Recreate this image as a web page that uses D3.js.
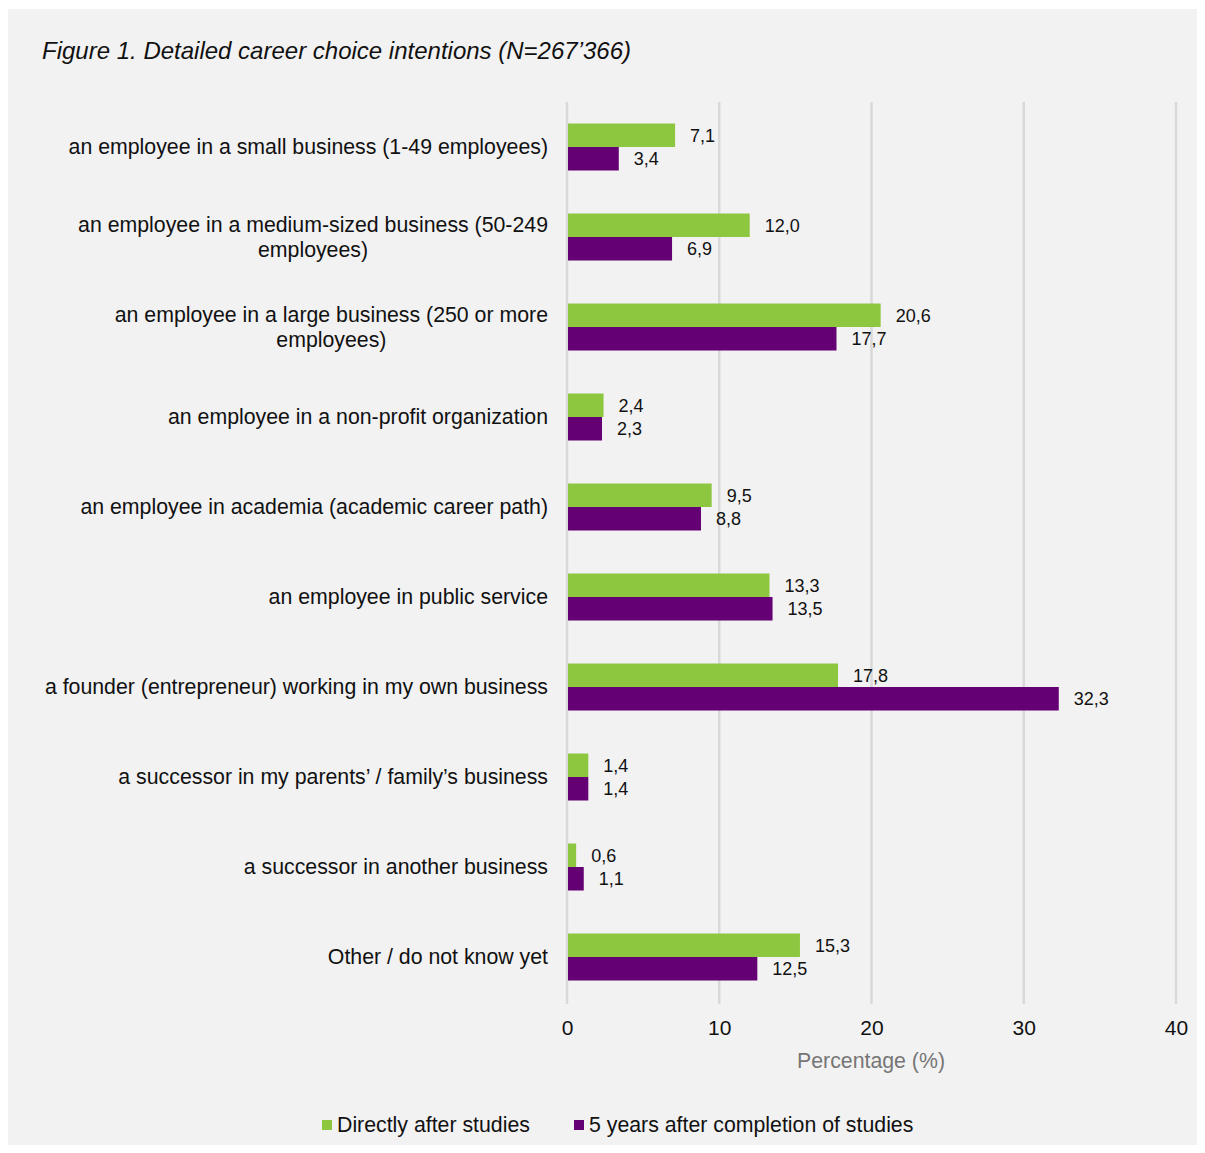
<!DOCTYPE html>
<meta charset="utf-8">
<style>
body { margin: 0; background: #fff; }
svg { display: block; font-family: "Liberation Sans", Arial, sans-serif; }
.grid line { stroke: #d9d9d9; stroke-width: 2.5px; }
.cat { font-size: 21.3px; fill: #111; }
.val { font-size: 18px; fill: #111; }
.tick text { font-size: 21px; fill: #111; }
</style>
<svg width="1205" height="1153"></svg>
<script src="https://d3js.org/d3.v7.min.js"></script>
<script>

var categories = [
  ["an employee in a small business (1-49 employees)"],
  ["an employee in a medium-sized business (50-249", "employees)"],
  ["an employee in a large business (250 or more", "employees)"],
  ["an employee in a non-profit organization"],
  ["an employee in academia (academic career path)"],
  ["an employee in public service"],
  ["a founder (entrepreneur) working in my own business"],
  ["a successor in my parents’ / family’s business"],
  ["a successor in another business"],
  ["Other / do not know yet"]
];
var directly = [7.1, 12.0, 20.6, 2.4, 9.5, 13.3, 17.8, 1.4, 0.6, 15.3];
var fiveYears = [3.4, 6.9, 17.7, 2.3, 8.8, 13.5, 32.3, 1.4, 1.1, 12.5];
var seriesNames = ["Directly after studies", "5 years after completion of studies"];
var colors = ["#8dc63f", "#640073"];
var xTicks = [0, 10, 20, 30, 40];

var svg = d3.select("svg");

svg.append("rect")
    .attr("x", 8).attr("y", 9)
    .attr("width", 1189).attr("height", 1136)
    .attr("fill", "#f2f2f2");

svg.append("text")
    .attr("x", 42).attr("y", 59)
    .style("font-size", "24px")
    .style("font-style", "italic")
    .attr("fill", "#111")
    .text("Figure 1. Detailed career choice intentions (N=267’366)");

var x = d3.scaleLinear().domain([0, 40]).range([567, 1176]);
var y = d3.scaleBand().domain(d3.range(categories.length)).range([102, 1002]);
var barH = 23.5;

var grid = svg.append("g").attr("class", "grid");
grid.selectAll("line")
    .data(xTicks)
    .enter().append("line")
    .attr("x1", function(d) { return x(d); })
    .attr("x2", function(d) { return x(d); })
    .attr("y1", 102)
    .attr("y2", 1004);

var axis = svg.append("g")
    .attr("transform", "translate(0,1004)")
    .call(d3.axisBottom(x).tickValues(xTicks).tickSize(0).tickPadding(16));
axis.select(".domain").remove();
axis.selectAll("text").style("font-family", "Liberation Sans, Arial, sans-serif");

svg.append("text")
    .attr("x", 871).attr("y", 1068)
    .attr("text-anchor", "middle")
    .style("font-size", "21.3px")
    .attr("fill", "#767676")
    .text("Percentage (%)");

var series = [directly, fiveYears];
series.forEach(function(vals, s) {
  var g = svg.append("g");
  g.selectAll("rect")
      .data(vals)
      .enter().append("rect")
      .attr("x", x(0) + 1)
      .attr("y", function(d, i) { return y(i) + y.bandwidth() / 2 - barH + s * barH; })
      .attr("width", function(d) { return x(d) - x(0) - 1; })
      .attr("height", barH)
      .attr("fill", colors[s]);
  g.selectAll("text")
      .data(vals)
      .enter().append("text")
      .attr("class", "val")
      .attr("x", function(d) { return x(d) + 15; })
      .attr("y", function(d, i) { return y(i) + y.bandwidth() / 2 - barH / 2 + s * barH; })
      .attr("dy", "0.35em")
      .text(function(d) { return d.toFixed(1).replace(".", ","); });
});

// category labels, two-line labels centred under the first line
var labels = svg.append("g");
categories.forEach(function(lines, i) {
  var cy = y(i) + y.bandwidth() / 2;
  var t = labels.append("text").attr("class", "cat");
  if (lines.length == 1) {
    t.attr("x", 548).attr("y", cy).attr("dy", "0.35em").attr("text-anchor", "end").text(lines[0]);
  } else {
    var first = t.append("tspan").attr("x", 548).attr("y", cy - 12.5).attr("dy", "0.35em")
        .attr("text-anchor", "end").text(lines[0]);
    var w = first.node().getComputedTextLength();
    t.append("tspan").attr("x", 548 - w / 2).attr("y", cy + 12.5).attr("dy", "0.35em")
        .attr("text-anchor", "middle").text(lines[1]);
  }
});

var legendItems = [{x: 322, name: seriesNames[0], c: colors[0]}, {x: 574, name: seriesNames[1], c: colors[1]}];
var legend = svg.selectAll(".legend")
    .data(legendItems)
    .enter().append("g")
    .attr("class", "legend")
    .attr("transform", function(d) { return "translate(" + d.x + ",1125)"; });
legend.append("rect")
    .attr("x", 0).attr("y", -5)
    .attr("width", 10).attr("height", 10)
    .attr("fill", function(d) { return d.c; });
legend.append("text")
    .attr("x", 15).attr("dy", "0.35em")
    .style("font-size", "21.3px")
    .attr("fill", "#111")
    .text(function(d) { return d.name; });

</script>
